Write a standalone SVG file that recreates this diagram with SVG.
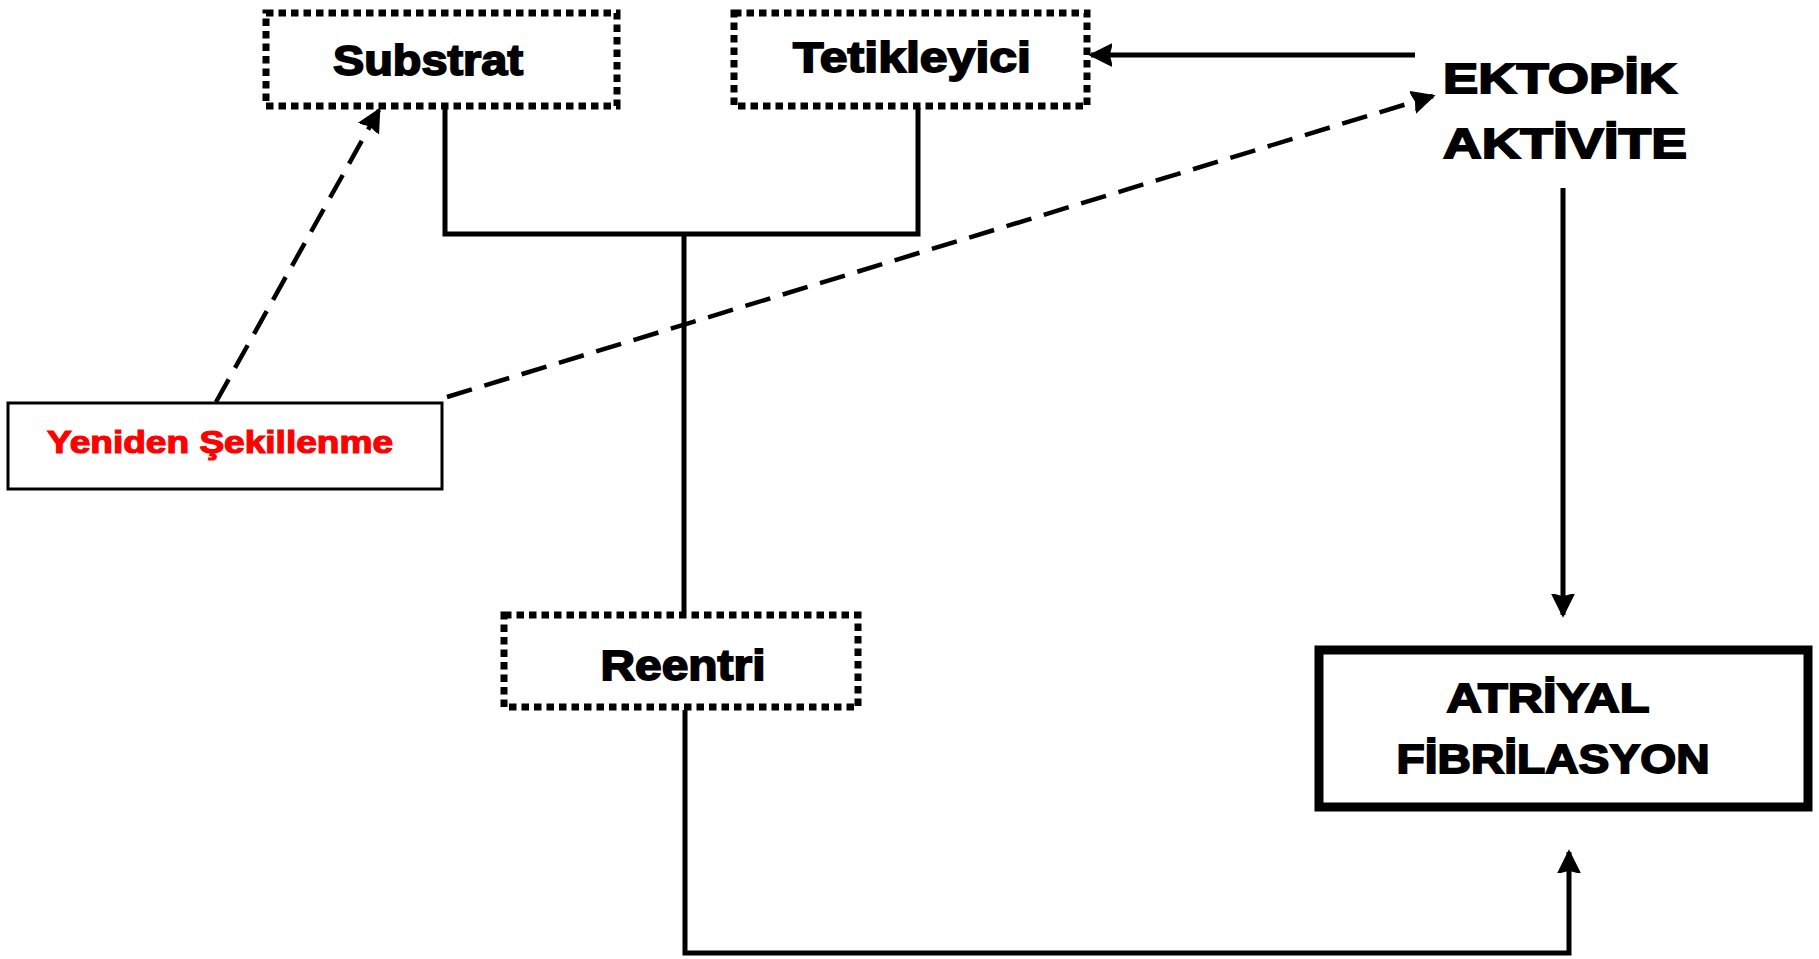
<svg xmlns="http://www.w3.org/2000/svg" width="1819" height="959" viewBox="0 0 1819 959">
<defs>
<marker id="ah" markerUnits="userSpaceOnUse" markerWidth="24" markerHeight="24" viewBox="0 0 24 24" refX="21" refY="12" orient="auto">
<path d="M0,1 L22,12 L0,23 L3,12 Z" fill="#000" stroke="#000" stroke-width="1.5" stroke-linejoin="miter"/>
</marker>
</defs>
<style>
.dot{fill:#fff;stroke:#000;stroke-width:7;stroke-dasharray:7.5 5}
.t{font-family:"Liberation Sans",Arial,sans-serif;font-weight:bold;fill:#000;stroke:#000;stroke-width:1.8;text-anchor:middle}
.ln{fill:none;stroke:#000;stroke-width:5}
.dash{fill:none;stroke:#000;stroke-width:4.5;stroke-dasharray:26 13}
</style>
<rect width="1819" height="959" fill="#fff"/>
<g id="connectors">
<path class="ln" d="M445,108 V234 H918 V108"/>
<path class="ln" d="M684,234 V612"/>
<path class="ln" d="M685,710 V953 H1569 V852" marker-end="url(#ah)"/>
<path class="ln" d="M1415,55 H1091" marker-end="url(#ah)"/>
<path class="ln" d="M1563,188 V615" marker-end="url(#ah)"/>
<path class="dash" d="M216,402 L379,110" marker-end="url(#ah)"/>
<path class="dash" d="M447,397 L1433,96" marker-end="url(#ah)"/>
</g>
<g id="substrat">
<rect class="dot" x="266" y="13" width="351" height="93"/>
<text class="t" x="428" y="75" font-size="43" textLength="190" lengthAdjust="spacingAndGlyphs">Substrat</text>
</g>
<g id="tetikleyici">
<rect class="dot" x="734" y="13" width="353" height="93"/>
<text class="t" x="912" y="72" font-size="43" textLength="238" lengthAdjust="spacingAndGlyphs">Tetikleyici</text>
</g>
<g id="ektopik">
<text class="t" x="1560" y="93" font-size="43" textLength="234" lengthAdjust="spacingAndGlyphs">EKTOPİK</text>
<text class="t" x="1565" y="158" font-size="43" textLength="244" lengthAdjust="spacingAndGlyphs">AKTİVİTE</text>
</g>
<g id="yeniden">
<rect x="8" y="403" width="434" height="86" fill="#fff" stroke="#000" stroke-width="3"/>
<text class="t" x="220" y="453" font-size="31" style="fill:#f00;stroke:#f00;stroke-width:1.2" textLength="346" lengthAdjust="spacingAndGlyphs">Yeniden Şekillenme</text>
</g>
<g id="reentri">
<rect class="dot" x="504" y="615" width="354" height="92"/>
<text class="t" x="683" y="680" font-size="43" textLength="165" lengthAdjust="spacingAndGlyphs">Reentri</text>
</g>
<g id="atriyal">
<rect x="1319" y="650" width="489" height="157" fill="#fff" stroke="#000" stroke-width="9"/>
<text class="t" x="1548" y="712" font-size="41" textLength="203" lengthAdjust="spacingAndGlyphs">ATRİYAL</text>
<text class="t" x="1553" y="773" font-size="41" textLength="313" lengthAdjust="spacingAndGlyphs">FİBRİLASYON</text>
</g>
</svg>
